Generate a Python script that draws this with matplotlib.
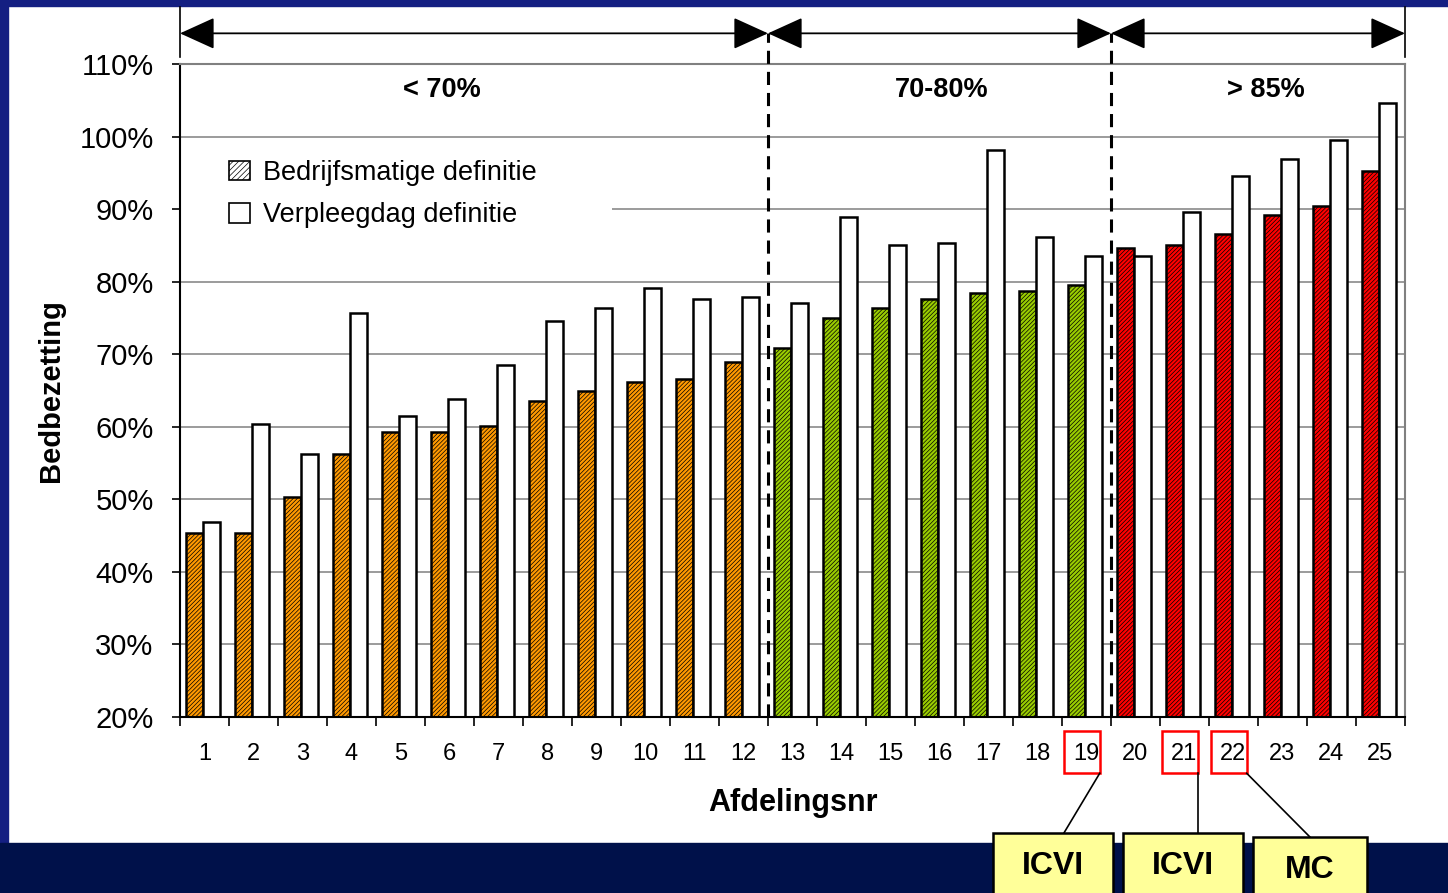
import numpy as np
import matplotlib.pyplot as plt
import matplotlib.transforms as mtransforms
from matplotlib.patches import Patch, Rectangle
from matplotlib.lines import Line2D

plt.rcParams['font.family'] = ['Liberation Sans', 'DejaVu Sans']
plt.rcParams['hatch.linewidth'] = 0.5

# Bedbezetting per afdeling (%)
afdelingen = list(range(1, 26))
bedrijfsmatig = [45.4, 45.4, 50.3, 56.2, 59.3, 59.3, 60.1, 63.5, 65.0, 66.2, 66.6, 68.9,
                 70.8, 75.0, 76.4, 77.6, 78.4, 78.7, 79.5,
                 84.7, 85.1, 86.6, 89.2, 90.4, 95.3]
verpleegdag = [46.9, 60.4, 56.2, 75.7, 61.5, 63.8, 68.5, 74.6, 76.4, 79.1, 77.6, 77.9,
               77.0, 88.9, 85.0, 85.4, 98.1, 86.2, 83.5,
               83.6, 89.6, 94.6, 96.9, 99.5, 104.6]

groepen = ['< 70%', '70-80%', '> 85%']
groep_eind = [12, 19, 25]          # laatste afdeling per groep
groep_kleuren = ['#ff9900', '#99cc00', '#ff0000']
groep_label_x = [5.85, 16.05, 22.66]

callout_afd = [19, 21, 22]
callout_tekst = ['ICVI', 'ICVI', 'MC']

kleuren = []
for a in afdelingen:
    for eind, kleur in zip(groep_eind, groep_kleuren):
        if a <= eind:
            kleuren.append(kleur)
            break

fig = plt.figure(figsize=(14.48, 8.93), dpi=100)
fig.patch.set_facecolor('white')

# blauwe rand rond de dia
fig.add_artist(Rectangle((0, 1 - 6 / 893), 1, 6 / 893, transform=fig.transFigure,
                         color='#141f82', zorder=-1))
fig.add_artist(Rectangle((0, 0), 8 / 1448, 1, transform=fig.transFigure,
                         color='#141f82', zorder=-1))
fig.add_artist(Rectangle((0, 0), 1, 50 / 893, transform=fig.transFigure,
                         color='#00114a', zorder=-1))

ax = fig.add_axes([0.1243, 0.1971, 0.8460, 0.7312])
x = np.array(afdelingen)
w = 0.35
ax.bar(x - 0.2, bedrijfsmatig, w, color=kleuren, edgecolor='black',
       linewidth=1.8, hatch='////////', zorder=2)
ax.bar(x + 0.15, verpleegdag, w, color='white', edgecolor='black',
       linewidth=1.8, zorder=2)

ax.set_xlim(0.5, 25.5)
ax.set_ylim(20, 110)
ax.set_yticks(np.arange(20, 111, 10))
ax.set_yticklabels([f'{v}%' for v in range(20, 111, 10)], fontsize=21)
ax.set_xticks(afdelingen)
ax.set_xticklabels([str(a) for a in afdelingen], fontsize=17)
ax.set_xticks(np.arange(0.5, 26, 1), minor=True)
ax.tick_params(axis='x', which='major', length=0, pad=19)
ax.tick_params(axis='x', which='minor', length=6.5, width=1.2, color='black')
ax.tick_params(axis='y', length=6, width=1.2, pad=13)

ax.set_axisbelow(True)
ax.yaxis.grid(True, color='#808080', linewidth=1.1)
for s in ['top', 'right']:
    ax.spines[s].set_color('#808080')
    ax.spines[s].set_linewidth(1.5)
for s in ['left', 'bottom']:
    ax.spines[s].set_color('black')
    ax.spines[s].set_linewidth(1.5)

ax.set_ylabel('Bedbezetting', fontsize=21, fontweight='bold', labelpad=10)
ax.set_xlabel('Afdelingsnr', fontsize=22, fontweight='bold', labelpad=16)

# legenda met witte achtergrond over de rasterlijn
ax.add_patch(Rectangle((0, 0.746), 0.353, 0.122, transform=ax.transAxes,
                       facecolor='white', edgecolor='none', zorder=1))
handles = [Patch(facecolor='white', edgecolor='black', hatch='//////', linewidth=1.2),
           Patch(facecolor='white', edgecolor='black', linewidth=1.2)]
ax.legend(handles, ['Bedrijfsmatige definitie', 'Verpleegdag definitie'],
          loc='upper left', bbox_to_anchor=(0.027, 0.878), frameon=False,
          fontsize=19.5, handlelength=0.75, handleheight=0.75, handletextpad=0.5,
          labelspacing=0.6, borderaxespad=0, borderpad=0.6)

# groepsgrenzen en pijlen boven de grafiek
trans = mtransforms.blended_transform_factory(ax.transData, ax.transAxes)
y_pijl = 1.047
grenzen = [0.5] + [e + 0.5 for e in groep_eind]
for g in grenzen[1:-1]:
    ax.add_line(Line2D([g, g], [0, y_pijl], transform=trans, color='black',
                       linewidth=2.2, dashes=(4.3, 2.6), clip_on=False, zorder=4))
for g in (grenzen[0], grenzen[-1]):
    ax.add_line(Line2D([g, g], [1.011, 1.087], transform=trans, color='black',
                       linewidth=1.2, clip_on=False))
for a, b in zip(grenzen[:-1], grenzen[1:]):
    ax.annotate('', xy=(b, y_pijl), xytext=(a, y_pijl), xycoords=trans,
                textcoords=trans,
                arrowprops=dict(arrowstyle='<|-|>,head_length=1.1,head_width=0.5',
                                mutation_scale=20, color='black', lw=1.3,
                                shrinkA=0, shrinkB=0))
for tekst, gx in zip(groepen, groep_label_x):
    ax.text(gx, 0.96, tekst, transform=trans, ha='center', va='center',
            fontsize=19.5, fontweight='bold')

# kaders rond afdelingsnummers met verwijzing naar specialisme
box_x = [18.32, 20.97, 23.56]
box_w = [2.45, 2.45, 2.31]
box_top = [-0.1776, -0.1776, -0.1838]
lijn_eind_x = [18.54, 21.27, 23.56]
for a, tekst, bx, bw, bt, lx in zip(callout_afd, callout_tekst, box_x, box_w,
                                    box_top, lijn_eind_x):
    ax.add_patch(Rectangle((a - 0.46, -0.0862), 0.73, 0.0648, transform=trans,
                           facecolor='none', edgecolor='#ff0000', linewidth=1.8,
                           clip_on=False))
    ax.add_line(Line2D([a + 0.27, lx], [-0.0862, bt], transform=trans,
                       color='black', linewidth=1.2, clip_on=False))
    ax.add_patch(Rectangle((bx - bw / 2, bt - 0.2), bw, 0.2, transform=trans,
                           facecolor='#ffff99', edgecolor='black', linewidth=1.8,
                           clip_on=False, zorder=5))
    ax.text(bx, bt - 0.05, tekst, transform=trans, ha='center', va='center',
            fontsize=23, fontweight='bold', zorder=6)

fig.savefig('out.png', dpi=100)
